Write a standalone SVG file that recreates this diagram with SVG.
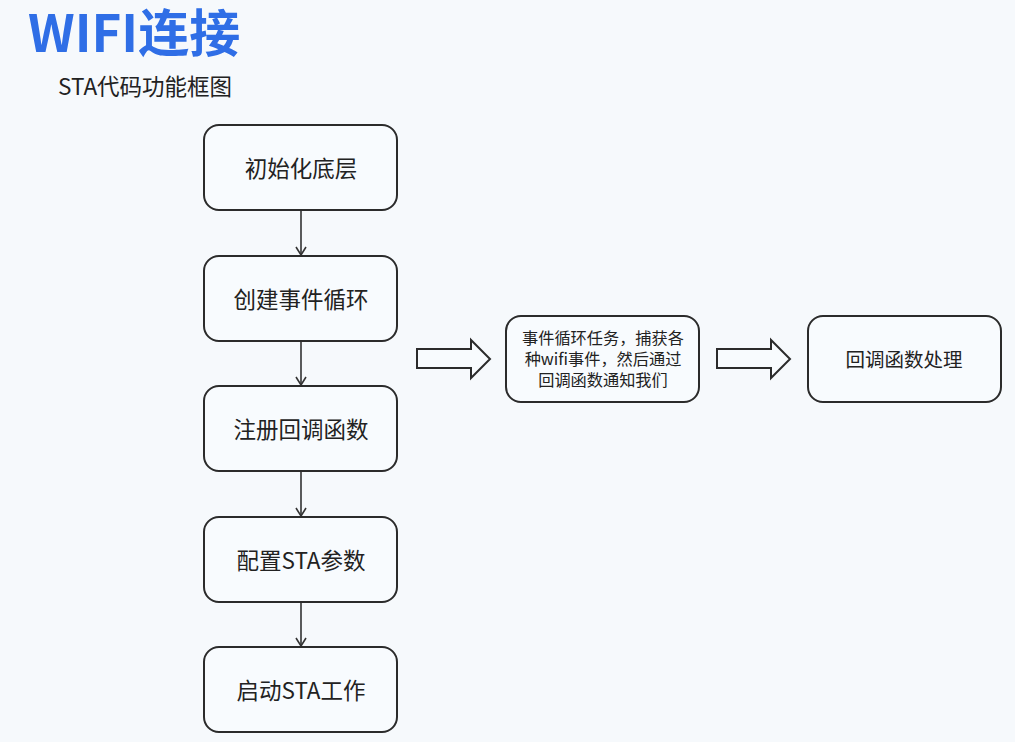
<svg xmlns="http://www.w3.org/2000/svg" width="1015" height="742" viewBox="0 0 1015 742">
<style>
.bg{fill:#f6f9fc}
.box{fill:#f8fbfe;stroke:#2b2b2b;stroke-width:2}
.t{font-family:"Noto Sans CJK SC","Noto Sans",sans-serif;fill:#222;text-anchor:middle;dominant-baseline:central}
.c{stroke:#333;stroke-width:1.6;fill:none}
.blk{fill:#f8fbfe;stroke:#2b2b2b;stroke-width:2;stroke-linejoin:miter}
</style>
<defs>
<marker id="ah" viewBox="0 0 12 12" refX="11" refY="6" markerWidth="12" markerHeight="12" markerUnits="userSpaceOnUse" orient="auto">
<path d="M3,1 L11,6 L3,11" fill="none" stroke="#333" stroke-width="1.6"/>
</marker>
</defs>
<rect class="bg" x="0" y="0" width="1015" height="742"/>
<text x="28" y="52" font-family="'Noto Sans CJK SC','Noto Sans',sans-serif" font-weight="bold" font-size="51" fill="#2f6ee6">WIFI连接</text>
<text x="58" y="95" font-family="'Noto Sans CJK SC','Noto Sans',sans-serif" font-size="22.5" fill="#222">STA代码功能框图</text>
<g id="connectors">
<line class="c" x1="301" y1="211" x2="301" y2="255" marker-end="url(#ah)"/>
<line class="c" x1="301" y1="342" x2="301" y2="385" marker-end="url(#ah)"/>
<line class="c" x1="301" y1="472" x2="301" y2="516" marker-end="url(#ah)"/>
<line class="c" x1="301" y1="603" x2="301" y2="646" marker-end="url(#ah)"/>
<path class="blk" d="M417,349 L471,349 L471,340 L490,359 L471,378 L471,368 L417,368 Z"/>
<path class="blk" d="M717,349 L771,349 L771,340 L790,359 L771,378 L771,368 L717,368 Z"/>
</g>
<g id="n1"><rect class="box" x="204" y="125" width="193" height="85" rx="15"/><text class="t" x="301" y="167" font-size="22.5">初始化底层</text></g>
<g id="n2"><rect class="box" x="204" y="256" width="193" height="85" rx="15"/><text class="t" x="301" y="298" font-size="22.5">创建事件循环</text></g>
<g id="n3"><rect class="box" x="204" y="386" width="193" height="85" rx="15"/><text class="t" x="301" y="428" font-size="22.5">注册回调函数</text></g>
<g id="n4"><rect class="box" x="204" y="517" width="193" height="85" rx="15"/><text class="t" x="301" y="559" font-size="22.5">配置STA参数</text></g>
<g id="n5"><rect class="box" x="204" y="647" width="193" height="85" rx="15"/><text class="t" x="301" y="689" font-size="22.5">启动STA工作</text></g>
<g id="n6"><rect class="box" x="506" y="316" width="193" height="86" rx="15"/>
<text class="t" x="603" y="337" font-size="16.2">事件循环任务，捕获各</text>
<text class="t" x="603" y="358" font-size="16.2">种wifi事件，然后通过</text>
<text class="t" x="603" y="379" font-size="16.2">回调函数通知我们</text></g>
<g id="n7"><rect class="box" x="808" y="316" width="193" height="86" rx="15"/><text class="t" x="904" y="358" font-size="19.5">回调函数处理</text></g>
</svg>
